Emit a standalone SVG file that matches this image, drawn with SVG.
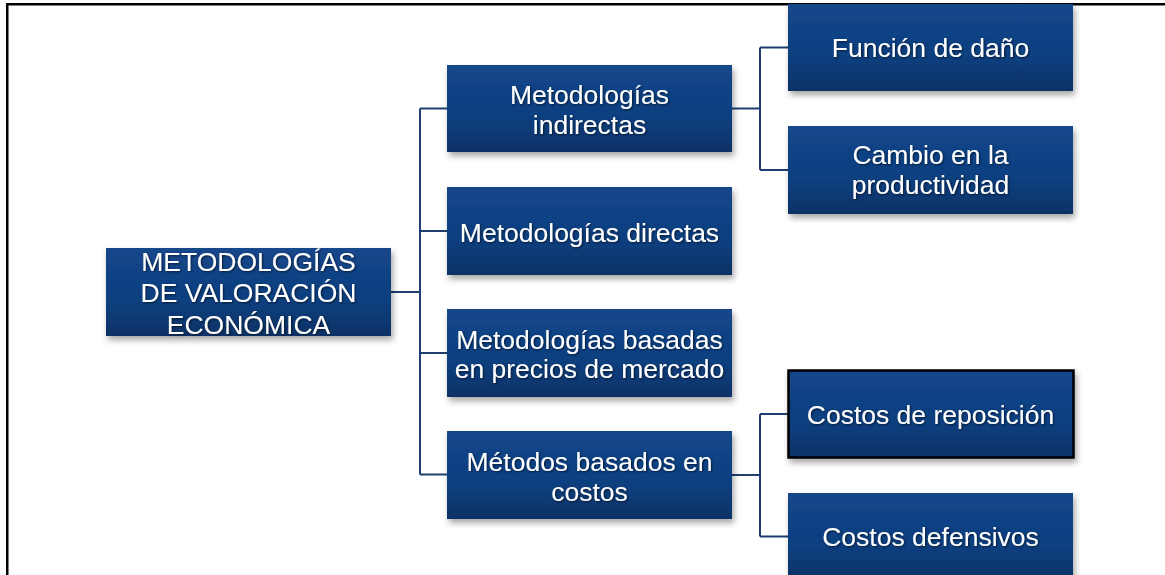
<svg xmlns="http://www.w3.org/2000/svg" width="1165" height="575" viewBox="0 0 1165 575">
  <defs>
    <linearGradient id="boxGrad" x1="0" y1="0" x2="0" y2="1">
      <stop offset="0" stop-color="#13468B"/>
      <stop offset="0.6" stop-color="#0F3F7F"/>
      <stop offset="1" stop-color="#0B3266"/>
    </linearGradient>
    <filter id="shadow" x="-10%" y="-10%" width="125%" height="135%">
      <feDropShadow dx="2" dy="4" stdDeviation="3" flood-color="#000000" flood-opacity="0.35"/>
    </filter>
    <filter id="tshadow" x="-5%" y="-20%" width="115%" height="150%">
      <feDropShadow dx="1" dy="1" stdDeviation="0.8" flood-color="#000000" flood-opacity="0.6"/>
    </filter>
  </defs>
  <style>
    .box { fill: url(#boxGrad); filter: url(#shadow); }
    .sel { stroke: #000000; stroke-width: 2.5; }
    .lbl { font-family: "Liberation Sans", Arial, sans-serif; font-size: 26.5px; fill: #ffffff; text-anchor: middle; filter: url(#tshadow); }
    .conn { fill: none; stroke: #1E3F70; stroke-width: 2; }
    .frame { fill: none; stroke: #000000; stroke-width: 2.5; }
  </style>
  <rect width="1165" height="575" fill="#ffffff"/>
  <path class="frame" d="M7.25,575 V4.25 H1165"/>

  <g id="connectors">
    <path class="conn" d="M391,292 H420 M420,108.5 V474.5 M420,108.5 H447 M420,231 H447 M420,353 H447 M420,474.5 H447"/>
    <path class="conn" d="M732,108.5 H760 M760,47.5 V170 M760,47.5 H788 M760,170 H788"/>
    <path class="conn" d="M732,475 H760 M760,414 V536.5 M760,414 H788 M760,536.5 H788"/>
  </g>

  <g id="root">
    <rect class="box" x="106" y="248" width="285" height="88"/>
    <text class="lbl" x="248.5" y="271">METODOLOGÍAS</text>
    <text class="lbl" x="248.5" y="302">DE VALORACIÓN</text>
    <text class="lbl" x="248.5" y="333.5">ECONÓMICA</text>
  </g>

  <g id="indirectas">
    <rect class="box" x="447" y="65" width="285" height="87"/>
    <text class="lbl" x="589.5" y="103.5">Metodologías</text>
    <text class="lbl" x="589.5" y="133.5">indirectas</text>
  </g>

  <g id="directas">
    <rect class="box" x="447" y="187" width="285" height="88"/>
    <text class="lbl" x="589.5" y="241.5">Metodologías directas</text>
  </g>

  <g id="mercado">
    <rect class="box" x="447" y="309" width="285" height="88"/>
    <text class="lbl" x="589.5" y="348.5">Metodologías basadas</text>
    <text class="lbl" x="589.5" y="377.5">en precios de mercado</text>
  </g>

  <g id="costos">
    <rect class="box" x="447" y="431" width="285" height="88"/>
    <text class="lbl" x="589.5" y="470.5">Métodos basados en</text>
    <text class="lbl" x="589.5" y="500.5">costos</text>
  </g>

  <g id="dano">
    <rect class="box" x="788" y="4" width="285" height="87"/>
    <text class="lbl" x="930.5" y="56.5">Función de daño</text>
  </g>

  <g id="productividad">
    <rect class="box" x="788" y="126" width="285" height="88"/>
    <text class="lbl" x="930.5" y="163.5">Cambio en la</text>
    <text class="lbl" x="930.5" y="193.5">productividad</text>
  </g>

  <g id="reposicion">
    <rect class="box sel" x="788.5" y="370.5" width="285" height="87"/>
    <text class="lbl" x="930.5" y="423.5">Costos de reposición</text>
  </g>

  <g id="defensivos">
    <rect class="box" x="788" y="493" width="285" height="88"/>
    <text class="lbl" x="930.5" y="545.5">Costos defensivos</text>
  </g>
</svg>
